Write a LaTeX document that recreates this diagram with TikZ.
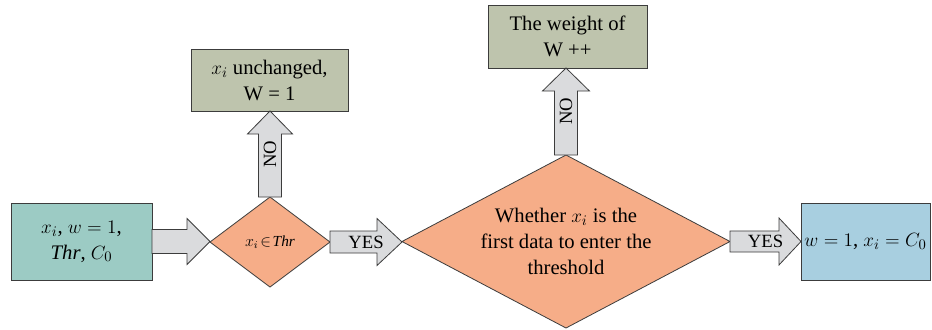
\documentclass[tikz,border=0pt]{standalone}
\usepackage{fontspec}
\setmainfont{Liberation Serif}
\usetikzlibrary{shapes.geometric,calc}
\definecolor{tealbox}{HTML}{9CCBC4}
\definecolor{salmon}{HTML}{F6AD88}
\definecolor{olivebox}{HTML}{BEC4AD}
\definecolor{bluebox}{HTML}{A8CFE0}
\definecolor{arrowgray}{HTML}{DADBDD}
\definecolor{edgecol}{HTML}{3C3C3C}
\tikzset{
  box/.style={draw=edgecol, line width=0.75pt, rectangle, inner sep=0pt, outer sep=0pt, align=center, font=\fontsize{15.5}{19.5}\selectfont},
  dia/.style={draw=edgecol, line width=0.6pt, diamond, fill=salmon, inner sep=0pt, outer sep=0pt, align=center},
  barrow/.style={draw=edgecol, line width=0.6pt, fill=arrowgray},
  alabel/.style={font=\fontsize{14}{16}\selectfont, inner sep=0pt},
}
\newcommand\hblock[6]{%
  \path[barrow] let \p1=(#1), \p2=(#2) in
    (\x1,\y1-#3) -- (\x2-#5,\y1-#3) -- (\x2-#5,\y1-#4) -- (\x2,\y1) -- (\x2-#5,\y1+#4) -- (\x2-#5,\y1+#3) -- (\x1,\y1+#3) -- cycle;
  \path let \p1=(#1), \p2=(#2) in node[alabel] at ({(\x1+\x2)/2},\y1) {#6};
}
\newcommand\vblock[6]{%
  \path[barrow] let \p1=(#1), \p2=(#2) in
    (\x1-#3,\y1) -- (\x1-#3,\y2-#5) -- (\x1-#4,\y2-#5) -- (\x1,\y2) -- (\x1+#4,\y2-#5) -- (\x1+#3,\y2-#5) -- (\x1+#3,\y1) -- cycle;
  \path let \p1=(#1), \p2=(#2) in node[alabel, rotate=90] at (\x1,{(\y1+\y2)/2}) {#6};
}
\begin{document}
\begin{tikzpicture}[x=0.75pt,y=-0.75pt]
\useasboundingbox (0,0) rectangle (932,329);
\fill[white] (0,0) rectangle (932,329);

\node[box, fill=tealbox, minimum width=105.75pt, minimum height=57.75pt] (in) at (81.5,241.5)
  {$x_i$, $w=1$,\\ $\mathit{Thr}$, $C_0$};
\node[dia, minimum width=90pt, minimum height=67.5pt, aspect=1.33, font=\fontsize{11.5}{13}\selectfont] (d1) at (270,242)
  {$x_i\!\in\!\mathit{Thr}$};
\node[dia, minimum width=246pt, minimum height=129.75pt, aspect=1.9, font=\fontsize{15.5}{19.5}\selectfont] (d2) at (566,241.5)
  {Whether $x_i$ is the\\ first data to enter the\\ threshold};
\node[box, fill=olivebox, minimum width=117.75pt, minimum height=46.5pt] (t1) at (269.5,80)
  {$x_i$ unchanged,\\ W = 1};
\node[box, fill=olivebox, minimum width=119.25pt, minimum height=47.25pt] (t2) at (567.5,36.5)
  {The weight of\\ W ++};
\node[box, fill=bluebox, minimum width=96.75pt, minimum height=57.75pt] (out) at (865.5,241.5)
  {$w=1$, $x_i=C_0$};

\hblock{in.east}{d1.west}{9pt}{17.25pt}{17.25pt}{}
\hblock{d1.east}{d2.west}{8.25pt}{17.6pt}{18.75pt}{YES}
\hblock{d2.east}{out.west}{7.9pt}{17.6pt}{16.5pt}{YES}
\vblock{d1.north}{t1.south}{8.6pt}{16.9pt}{17.25pt}{NO}
\vblock{d2.north}{t2.south}{8.6pt}{17.6pt}{17.25pt}{NO}
\end{tikzpicture}
\end{document}
